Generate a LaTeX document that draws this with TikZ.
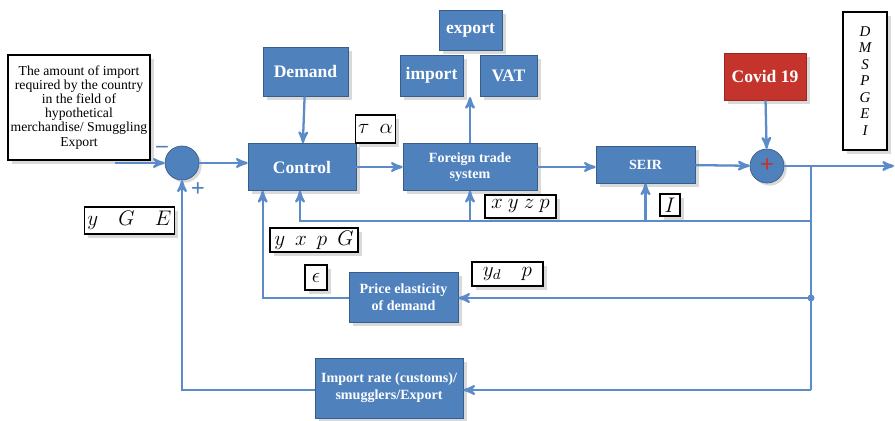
\documentclass[tikz,border=0pt]{standalone}
\usepackage{fontspec}
\setmainfont{Liberation Serif}
\usetikzlibrary{arrows, shadows, calc, positioning}
\definecolor{boxblue}{RGB}{79,129,189}
\definecolor{edgeblue}{RGB}{56,93,138}
\definecolor{lineblue}{RGB}{91,139,201}
\definecolor{covidred}{RGB}{196,52,44}
\definecolor{covidedge}{RGB}{150,40,35}

\begin{document}
\begin{tikzpicture}[x=0.02cm,y=-0.02cm,align=center,node distance=0.1cm]
\tikzstyle{block}=[rectangle,draw=edgeblue,fill=boxblue,text=white,inner sep=2pt,font=\bfseries\fontsize{10}{11}\selectfont,drop shadow={opacity=0.3,shadow xshift=2pt,shadow yshift=-2pt}]
\tikzstyle{smallblock}=[block,font=\bfseries\fontsize{8}{9.5}\selectfont]
\tikzstyle{var}=[rectangle,draw=black,fill=white,line width=0.6pt,inner sep=1.5pt,font=\fontsize{11.5}{12}\selectfont,drop shadow={opacity=0.3,shadow xshift=2pt,shadow yshift=-2pt}]
\tikzstyle{junction}=[circle,draw=edgeblue,fill=boxblue,minimum size=0.68cm,inner sep=0pt,drop shadow={opacity=0.3,shadow xshift=1.5pt,shadow yshift=-1.5pt}]
\tikzstyle{flow}=[->,>=stealth',draw=lineblue,line width=1.3pt]
\tikzstyle{line}=[-,draw=lineblue,line width=1.3pt]

\useasboundingbox (0,0) rectangle (895,420);

% forward path
\node[var, minimum width=2.84cm, minimum height=2.1cm, font=\fontsize{7.8}{8}\selectfont] (need) at (79,107.5) {The amount of import\\required by the country\\in the field of\\hypothetical\\merchandise/ Smuggling\\Export};
\node[junction] (sum1) at (182,163) {};
\node[block, minimum width=2.16cm, minimum height=0.94cm] (control) at (302,167) {Control};
\node[block, minimum width=1.7cm, minimum height=0.98cm] (demand) at (305.5,71.5) {Demand};
\node[smallblock, minimum width=2.68cm, minimum height=0.94cm] (trade) at (470,167) {Foreign trade\\system};
\node[block, minimum width=1.26cm, minimum height=0.8cm] (export) at (470.5,30) {export};
\node[block, minimum width=1.26cm, minimum height=0.82cm] (import) at (431.5,75.5) {import};
\node[block, minimum width=1.14cm, minimum height=0.82cm] (vat) at (508.5,75.5) {VAT};
\node[smallblock, minimum width=1.98cm, minimum height=0.74cm] (seir) at (645.5,164.5) {SEIR};
\node[block, fill=covidred, draw=covidedge, minimum width=1.64cm, minimum height=0.94cm] (covid) at (765,76.5) {Covid 19};
\node[junction] (sum2) at (767,166) {\textcolor{covidred}{\bfseries\fontsize{14}{14}\selectfont +}};
\node[var, minimum width=0.88cm, minimum height=2.76cm, font=\itshape\fontsize{8.5}{9.4}\selectfont] (state) at (865,81) {D\\M\\S\\P\\G\\E\\I};

% feedback path
\node[smallblock, minimum width=2.18cm, minimum height=1cm] (elastic) at (403.5,297) {Price elasticity\\of demand};
\node[smallblock, minimum width=2.96cm, minimum height=1.2cm] (rate) at (389,388) {Import rate (customs)/\\smugglers/Export};

% signs
\node[text=boxblue, font=\bfseries\fontsize{13}{13}\selectfont] (minus) at (162,149) {--};
\node[text=boxblue, font=\bfseries\fontsize{14}{14}\selectfont] (plus) at (198,190) {+};

% variable labels
\node[var, minimum width=0.7cm, minimum height=0.56cm] (taual) at (375.5,129) {$\tau\ \ \alpha$};
\node[var, minimum width=1.42cm, minimum height=0.46cm] (xyzp) at (520.5,206.5) {$x\ y\ z\ p$};
\node[var, minimum width=0.4cm, minimum height=0.44cm] (ivar) at (670,205) {$I$};
\node[var, minimum width=1.76cm, minimum height=0.48cm] (yxpg) at (314,240) {$y\ \ x\ \ p\ \ G$};
\node[var, minimum width=0.44cm, minimum height=0.5cm] (eps) at (316,277.5) {$\epsilon$};
\node[var, minimum width=1.42cm, minimum height=0.48cm] (ydp) at (507.5,274) {$y_d\quad p$};
\node[var, minimum width=1.7cm, minimum height=0.54cm] (yge) at (129.5,220.5) {$y\quad G\quad E$};

\coordinate (in) at (115,163);
\coordinate (tax) at (470,97);
\coordinate (out) at (894,166);
\coordinate (br) at (811,166);
\coordinate (br1) at (811,221);
\coordinate (br2) at (811,298);
\coordinate (br3) at (811,390);

\draw[flow] (in) -- (sum1);
\draw[flow] (sum1.east) -- (sum1.east -| control.west);
\draw[flow] (demand) -- (control);
\draw[flow] (control) -- (trade);
\draw[flow] (trade) -- (tax);
\draw[flow] (trade.east) -- (trade.east -| seir.west);
\draw[flow] (seir) -- (sum2);
\draw[flow] (covid) -- (sum2);
\draw[flow] (sum2) -- (out);

\draw[line] (br) -- (br3);
\draw[flow] (br1) -| ([xshift=-0.04cm]control.south);
\draw[flow] (br1 -| trade) -- (trade);
\draw[flow] (br1 -| seir) -- (seir);
\fill[lineblue] (br2) circle (3.5);
\draw[flow] (br2) -- (br2 -| elastic.east);
\draw[flow] (elastic.west |- br2) -| ([xshift=0.3cm]control.south west);
\draw[flow] (br3) -- (rate.east |- br3);
\draw[flow] (rate.west |- br3) -| (sum1);
\end{tikzpicture}
\end{document}
